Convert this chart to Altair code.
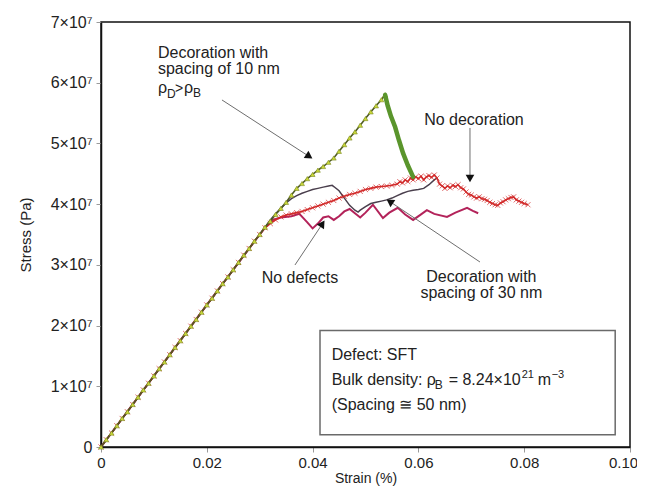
import math
import altair as alt
import pandas as pd

# ---------------- data (stress in units of 10^7 Pa, strain in %) ----------------
x_10nm = [0, .001, .002, .003, .004, .005, .006, .007, .008, .009, .010, .011, .012, .013,
          .014, .015, .016, .017, .018, .019, .020, .021, .022, .023, .024, .025, .026, .027,
          .028, .029, .030, .031, .032, .033, .034, .035, .036, .037, .038, .039, .040, .041,
          .042, .043, .044, .045, .046, .047, .048, .049, .050, .051, .052, .053, .0537]
y_10nm = [0, .12, .23, .35, .47, .58, .70, .82, .94, 1.05, 1.17, 1.29, 1.40, 1.52,
          1.64, 1.75, 1.87, 1.99, 2.10, 2.22, 2.34, 2.45, 2.57, 2.69, 2.80, 2.92, 3.04, 3.16,
          3.27, 3.39, 3.50, 3.62, 3.72, 3.83, 3.93, 4.03, 4.15, 4.26, 4.34, 4.42, 4.49, 4.56,
          4.62, 4.69, 4.76, 4.87, 4.98, 5.09, 5.19, 5.30, 5.41, 5.52, 5.62, 5.72, 5.80]
x_10nm_drop = [.0537, .0542, .0548, .0556, .0563, .0571, .0580, .0590]
y_10nm_drop = [5.80, 5.62, 5.45, 5.27, 5.06, 4.84, 4.64, 4.45]

x_nodec = [0, .001, .002, .003, .004, .005, .006, .007, .008, .009, .010, .011, .012, .013,
           .014, .015, .016, .017, .018, .019, .020, .021, .022, .023, .024, .025, .026, .027,
           .028, .029, .030, .031, .032, .033, .034, .035, .036, .037, .038, .039, .040, .041,
           .042, .043, .044, .045, .046, .047, .048, .049, .050, .051, .052, .053, .054, .055,
           .056, .0565, .057, .0575, .058, .0585, .059, .0595, .060, .0605, .061, .0615, .062,
           .0625, .063, .0635, .064, .0645, .065, .0655, .066, .0665, .067, .0675, .068, .0685,
           .069, .0695, .070, .0705, .071, .0715, .072, .0725, .073, .0735, .074, .0745, .075,
           .0755, .076, .0765, .077, .0775, .078, .0785, .079, .0795, .080, .0807]
y_nodec = [0, .12, .23, .35, .47, .58, .70, .82, .94, 1.05, 1.17, 1.29, 1.40, 1.52,
           1.64, 1.75, 1.87, 1.99, 2.10, 2.22, 2.34, 2.45, 2.57, 2.69, 2.80, 2.92, 3.04, 3.16,
           3.27, 3.39, 3.50, 3.61, 3.68, 3.74, 3.79, 3.82, 3.84, 3.86, 3.88, 3.91, 3.94, 3.97,
           4.00, 4.03, 4.06, 4.10, 4.13, 4.16, 4.18, 4.21, 4.24, 4.26, 4.28, 4.29, 4.30, 4.31,
           4.33, 4.37, 4.35, 4.40, 4.37, 4.43, 4.40, 4.45, 4.42, 4.46, 4.40, 4.45, 4.47,
           4.44, 4.48, 4.43, 4.33, 4.30, 4.26, 4.30, 4.27, 4.31, 4.29, 4.32, 4.27, 4.25,
           4.20, 4.16, 4.15, 4.12, 4.10, 4.12, 4.09, 4.08, 4.06, 4.03, 4.01, 3.99, 3.98,
           4.02, 4.04, 4.07, 4.09, 4.11, 4.12, 4.07, 4.05, 4.03, 4.01, 3.99]

x_nodef = [0, .010, .020, .030, .031, .0325, .034, .036, .0375, .039, .040, .041, .042, .043,
           .044, .045, .046, .047, .048, .049, .050, .0514, .0533, .0545, .0561, .0575, .059,
           .0603, .0616, .063, .0654, .067, .0692, .0703, .0713]
y_nodef = [0, 1.17, 2.34, 3.50, 3.61, 3.74, 3.78, 3.80, 3.84, 3.70, 3.60, 3.68, 3.78, 3.80,
           3.74, 3.80, 3.88, 3.92, 3.85, 3.78, 3.86, 3.99, 3.77, 3.86, 3.94, 3.83, 3.74,
           3.82, 3.90, 3.84, 3.79, 3.86, 3.94, 3.89, 3.85]

x_30nm = [0, .010, .020, .030, .031, .032, .033, .034, .035, .036, .037, .038, .039, .040,
          .041, .042, .043, .0437, .044, .045, .046, .047, .048, .0486, .049, .050, .051, .052,
          .053, .054, .055, .056, .057, .058, .059, .060, .061, .062, .063, .0635]
y_30nm = [0, 1.17, 2.34, 3.50, 3.62, 3.74, 3.84, 3.93, 4.02, 4.09, 4.14, 4.18, 4.21, 4.24,
          4.26, 4.28, 4.30, 4.31, 4.29, 4.22, 4.10, 3.98, 3.90, 3.87, 3.90, 3.96, 4.01, 4.03,
          4.05, 4.07, 4.10, 4.14, 4.18, 4.21, 4.23, 4.24, 4.26, 4.32, 4.40, 4.43]

x_ticks = [0, 0.02, 0.04, 0.06, 0.08, 0.10]
y_ticks = [0, 1, 2, 3, 4, 5, 6, 7]

# annotation arrows: (start x, start y, tip x, tip y)
arrows = [
    (0.02287, 5.716, 0.04008, 4.744),   # 10 nm
    (0.06975, 5.255, 0.06975, 4.349),   # no decoration
    (0.03667, 2.998, 0.04234, 3.739),   # no defects
    (0.07164, 3.047, 0.05388, 4.085),   # 30 nm
]

# ---------------- layout ----------------
W, H = 529, 425
XMAX, YMAX = 0.10, 7.0
FONT = "Liberation Sans"
TXT = "#222222"

xs = alt.Scale(domain=[0, XMAX], nice=False, zero=True)
ys = alt.Scale(domain=[0, YMAX], nice=False, zero=True)

xaxis = alt.Axis(values=x_ticks, title="Strain (%)", grid=False,
                 labelExpr="datum.value == 0 ? '0' : format(datum.value, '.2f')",
                 labelOffset={"condition": {"test": "datum.value > 0.099", "value": -7},
                              "value": 0},
                 labelFontSize=15, titleFontSize=14, labelPadding=3, titlePadding=1,
                 tickSize=5, tickColor="#9a9a9a", domainColor="#111111", domainWidth=1.5,
                 labelColor=TXT, titleColor=TXT, titleFontWeight="normal", labelFlush=False,
                 labelOverlap=False)
yaxis = alt.Axis(values=y_ticks, title="Stress (Pa)", grid=False,
                 labelExpr="datum.value == 0 ? '0' : format(datum.value, 'd') + '×10⁷'",
                 labelFontSize=16, titleFontSize=15, labelPadding=4, titlePadding=17,
                 tickSize=5, tickColor="#9a9a9a", domainColor="#111111", domainWidth=1.5,
                 labelColor=TXT, titleColor=TXT, titleFontWeight="normal", labelFlush=False,
                 labelOverlap=False)

XE = alt.X("x:Q", scale=xs, axis=xaxis)
YE = alt.Y("y:Q", scale=ys, axis=yaxis)


def series(xv, yv):
    return pd.DataFrame({"x": xv, "y": yv})


def enc(ch):
    return ch.encode(x=XE, y=YE)


X_PATH = "M-1,-1L1,1M-1,1L1,-1"

nodef = enc(alt.Chart(series(x_nodef, y_nodef)).mark_line(color="#b3235a", strokeWidth=2))
d30 = enc(alt.Chart(series(x_30nm, y_30nm)).mark_line(color="#4a3f4d", strokeWidth=1.5))
nodec_line = enc(alt.Chart(series(x_nodec, y_nodec)).mark_line(color="#d22a2a", strokeWidth=1.6))
nodec_pts = enc(alt.Chart(series(x_nodec, y_nodec)).mark_point(
    shape=X_PATH, size=26, color="#d22a2a", filled=False, strokeWidth=1))
d10_line = enc(alt.Chart(series(x_10nm, y_10nm)).mark_line(color="#4f5a26", strokeWidth=1.6))
d10_pts = enc(alt.Chart(series(x_10nm, y_10nm)).mark_point(
    shape="triangle-up", size=24, fill="#c9d83a", stroke="#7c8a22", strokeWidth=0.6,
    filled=True, opacity=1))
d10_drop = enc(alt.Chart(series(x_10nm_drop, y_10nm_drop)).mark_line(
    color="#5a952c", strokeWidth=4.5, strokeCap="round"))

# arrows
rows, heads = [], []
for (x0, y0, x1, y1) in arrows:
    dxp = (x1 - x0) / XMAX * W
    dyp = -(y1 - y0) / YMAX * H
    L = math.hypot(dxp, dyp)
    ux, uy = dxp / L, dyp / L
    back = 4.5
    hx = x1 - ux * back * XMAX / W
    hy = y1 + uy * back * YMAX / H
    ang = math.degrees(math.atan2(ux, -uy)) % 360
    rows.append({"x": x0, "y": y0, "x2": hx, "y2": hy})
    heads.append({"x": hx, "y": hy, "a": ang})

arrow_lines = alt.Chart(pd.DataFrame(rows)).mark_rule(color="#6e6e6e", strokeWidth=1).encode(
    x=XE, y=YE, x2="x2:Q", y2="y2:Q")
arrow_heads = alt.Chart(pd.DataFrame(heads)).mark_point(
    shape="triangle-up", size=75, filled=True, color="#111111", opacity=1).encode(
    x=XE, y=YE, angle=alt.Angle("a:Q", scale=None))

# info box
box = alt.Chart(pd.DataFrame({"x": [0.0414], "x2": [0.0972], "y": [1.92], "y2": [0.20]})).mark_rect(
    fill="white", stroke="#6a6a6a", strokeWidth=1.5).encode(
    x=XE, x2="x2:Q", y=YE, y2="y2:Q")


def txt(x, y, s, size=16, align="left", dx=0, dy=0):
    return alt.Chart(pd.DataFrame({"x": [x], "y": [y], "t": [s]})).mark_text(
        font=FONT, fontSize=size, align=align, baseline="alphabetic", color=TXT,
        dx=dx, dy=dy).encode(x=XE, y=YE, text="t:N")


texts = [
    txt(0.01077, 6.408, "Decoration with"),
    txt(0.01077, 6.144, "spacing of 10 nm"),
    txt(0.01077, 5.831, "ρ"),
    txt(0.01077, 5.831, "D", size=12, dx=9, dy=5),
    txt(0.01077, 5.831, ">", size=14, dx=17),
    txt(0.01077, 5.831, "ρ", dx=26),
    txt(0.01077, 5.831, "B", size=12, dx=35, dy=4),
    txt(0.0705, 5.304, "No decoration", align="center"),
    txt(0.0376, 2.701, "No defects", align="center"),
    txt(0.0719, 2.718, "Decoration with", align="center"),
    txt(0.0719, 2.454, "spacing of 30 nm", align="center"),
    txt(0.0436, 1.433, "Defect: SFT"),
    txt(0.0436, 1.021, "Bulk density: ρ"),
    txt(0.0436, 1.021, "B", size=12, dx=103, dy=4),
    txt(0.0436, 1.021, "= 8.24×10", dx=117),
    txt(0.0436, 1.021, "21", size=11, dx=190, dy=-7),
    txt(0.0436, 1.021, "m", dx=206),
    txt(0.0436, 1.021, "−3", size=11, dx=220, dy=-7),
    txt(0.0436, 0.610, "(Spacing ≅ 50 nm)"),
]

chart = alt.layer(
    nodef, d30, nodec_line, nodec_pts, d10_line, d10_pts, d10_drop,
    arrow_lines, arrow_heads, box, *texts
).properties(
    width=W, height=H, autosize="none",
    padding={"left": 93, "top": 14, "right": 7, "bottom": 42},
).configure(
    font=FONT, background="white"
).configure_view(
    stroke="#111111", strokeWidth=1.5
)

chart.save("out.html", embed_options={"renderer": "svg", "actions": False})
